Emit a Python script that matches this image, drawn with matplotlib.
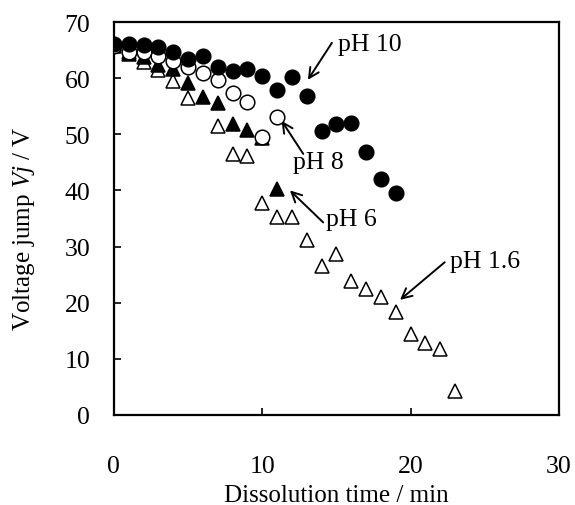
import matplotlib
matplotlib.use("Agg")
import matplotlib.pyplot as plt

plt.rcParams['font.family'] = ['Liberation Serif', 'DejaVu Serif']
plt.rcParams['mathtext.fontset'] = 'custom'
plt.rcParams['mathtext.rm'] = 'Liberation Serif'
plt.rcParams['mathtext.it'] = 'Liberation Serif:italic'

# pH 10 (filled circles)
t_ph10 = [0, 1, 2, 3, 4, 5, 6, 7, 8, 9, 10, 11, 12, 13, 14, 15, 16, 17, 18, 19]
v_ph10 = [66.1, 66.1, 65.9, 65.5, 64.6, 63.4, 64.0, 61.9, 61.3, 61.6, 60.4, 57.9, 60.2, 56.8, 50.5, 51.8, 52.0, 46.9, 42.0, 39.5]
# pH 8 (open circles)
t_ph8 = [0, 1, 2, 3, 4, 5, 6, 7, 8, 9, 10, 11]
v_ph8 = [65.8, 64.7, 64.6, 64.0, 63.1, 62.0, 61.0, 59.7, 57.4, 55.8, 49.5, 53.1]
# pH 6 (filled triangles)
t_ph6 = [0, 1, 2, 3, 4, 5, 6, 7, 8, 9, 10, 11]
v_ph6 = [66.0, 64.3, 63.8, 62.3, 61.6, 59.2, 56.6, 55.6, 51.8, 50.8, 49.3, 40.3]
# pH 1.6 (open triangles)
t_ph16 = [0, 1, 2, 3, 4, 5, 7, 8, 9, 10, 11, 12, 13, 14, 15, 16, 17, 18, 19, 20, 21, 22, 23]
v_ph16 = [65.8, 64.6, 62.8, 61.5, 59.5, 56.4, 51.5, 46.5, 46.1, 37.7, 35.2, 35.2, 31.1, 26.6, 28.7, 23.9, 22.4, 21.0, 18.3, 14.4, 12.9, 11.8, 4.3]

labels = ["pH 10", "pH 8", "pH 6", "pH 1.6"]
text_pos = [(15.1, 66.1), (12.05, 45.0), (14.3, 34.9), (22.66, 27.5)]
arrow_tail = [(14.7, 66.3), (12.77, 46.5), (14.11, 34.3), (22.3, 27.2)]
arrow_tip = [(13.08, 59.7), (11.31, 52.4), (11.87, 40.0), (19.29, 20.5)]

fig = plt.figure(figsize=(5.75, 5.06), dpi=100)
ax = fig.add_axes([0.198, 0.178, 0.774, 0.7765])

ms = 10.5
ax.plot(t_ph16, v_ph16, linestyle='none', marker='^', ms=ms, mfc='white', mec='black', mew=1.1, zorder=3)
ax.plot(t_ph6, v_ph6, linestyle='none', marker='^', ms=ms, mfc='black', mec='black', mew=1.1, zorder=4)
ax.plot(t_ph8, v_ph8, linestyle='none', marker='o', ms=ms, mfc='white', mec='black', mew=1.1, zorder=5)
ax.plot(t_ph10, v_ph10, linestyle='none', marker='o', ms=ms, mfc='black', mec='black', mew=1.1, zorder=6)

for lab, tp, tail, tip in zip(labels, text_pos, arrow_tail, arrow_tip):
    ax.text(tp[0], tp[1], lab, fontsize=18.5, ha='left', va='center')
    ax.annotate('', xy=tip, xytext=tail,
                arrowprops=dict(arrowstyle='->', lw=1.4, color='black',
                                shrinkA=0, shrinkB=0, mutation_scale=18))

ax.set_xlim(0, 30)
ax.set_ylim(0, 70)
ax.set_xticks([0, 10, 20, 30])
ax.set_yticks([0, 10, 20, 30, 40, 50, 60, 70])
ax.tick_params(direction='in', length=5, width=1.2, labelsize=18.5)
ax.tick_params(axis='x', pad=29)
ax.tick_params(axis='y', pad=17)
for s in ax.spines.values():
    s.set_linewidth(1.6)

ax.set_xlabel('Dissolution time / min', fontsize=18)
ax.set_ylabel('Voltage jump $\\it{Vj}$ / V', fontsize=18)
ax.xaxis.set_label_coords(0.5, -0.176)
ax.yaxis.set_label_coords(-0.173, 0.476)

fig.savefig('out.png', dpi=100)
